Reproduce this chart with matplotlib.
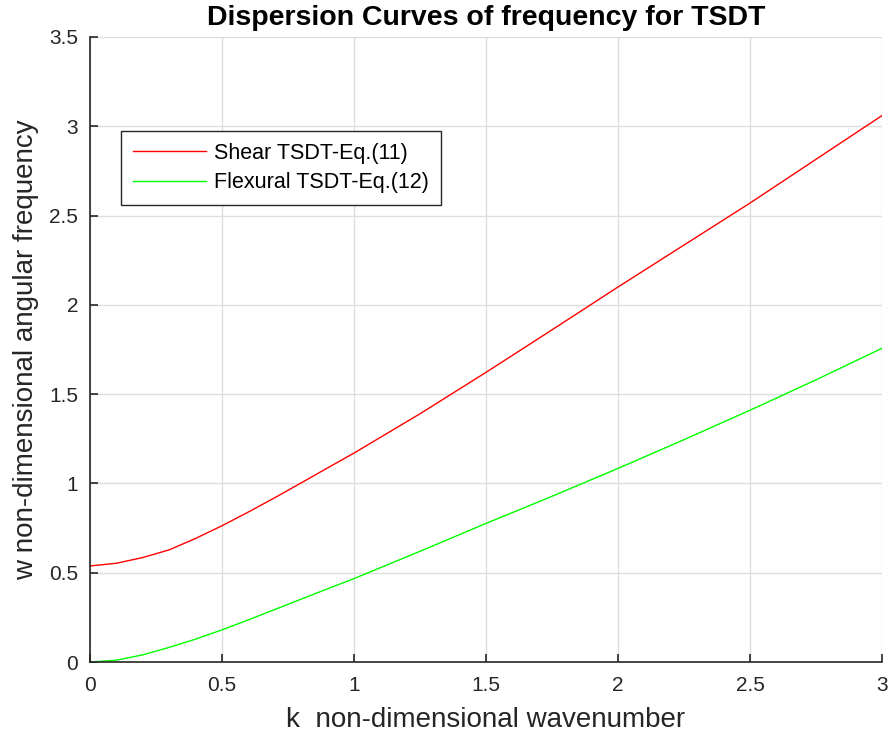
import matplotlib
import matplotlib.pyplot as plt
import numpy as np

matplotlib.use('Agg')
plt.rcParams['font.family'] = ['Liberation Sans', 'DejaVu Sans']

# values
k = [0, 0.1, 0.2, 0.3, 0.4, 0.5, 0.6, 0.7, 0.8, 0.9, 1.0,
     1.25, 1.5, 1.75, 2.0, 2.25, 2.5, 2.75, 3.0]
w_shear = [0.538, 0.553, 0.585, 0.628, 0.692, 0.763, 0.84, 0.92, 1.003, 1.087, 1.17,
           1.39, 1.622, 1.86, 2.1, 2.335, 2.57, 2.815, 3.06]
w_flex = [0.0, 0.01, 0.04, 0.082, 0.128, 0.18, 0.236, 0.294, 0.352, 0.41, 0.467,
          0.62, 0.776, 0.928, 1.084, 1.245, 1.41, 1.58, 1.757]

xticks = [0, 0.5, 1, 1.5, 2, 2.5, 3]
xticklabels = ['0', '0.5', '1', '1.5', '2', '2.5', '3']
yticks = [0, 0.5, 1, 1.5, 2, 2.5, 3, 3.5]
yticklabels = ['0', '0.5', '1', '1.5', '2', '2.5', '3', '3.5']

fig = plt.figure(figsize=(8.88, 7.45), dpi=100)
ax = fig.add_axes([90 / 888, 83 / 745, 792 / 888, 625 / 745])

ax.plot(k, w_shear, color='#ff0000', lw=1.0, label='Shear TSDT-Eq.(11)')
ax.plot(k, w_flex, color='#00ff00', lw=1.0, label='Flexural TSDT-Eq.(12)')

ax.set_xlim(0, 3)
ax.set_ylim(0, 3.5)
ax.set_xticks(xticks)
ax.set_yticks(yticks)
ax.set_xticklabels(xticklabels)
ax.set_yticklabels(yticklabels)
ax.grid(True, color='#dedede', lw=1.0)
ax.set_axisbelow(True)
for s in ['top', 'right']:
    ax.spines[s].set_visible(False)
for s in ['left', 'bottom']:
    ax.spines[s].set_color('#262626')
    ax.spines[s].set_linewidth(1.2)
ax.tick_params(direction='in', length=6, width=1.2, colors='#262626',
               labelsize=15, labelcolor='#262626')
ax.tick_params(axis='x', pad=10)
ax.tick_params(axis='y', pad=8.5)

ax.set_xlabel('k  non-dimensional wavenumber', fontsize=20, color='#262626', labelpad=9)
ax.set_ylabel('w non-dimensional angular frequency', fontsize=20, color='#262626', labelpad=7)
ax.set_title('Dispersion Curves of frequency for TSDT', fontsize=20.5,
             fontweight='bold', pad=8.6)

leg = ax.legend(loc='upper left', bbox_to_anchor=(0.0388, 0.85), borderaxespad=0,
                fontsize=15.5, fancybox=False, framealpha=1, edgecolor='#262626',
                handlelength=3.4, handletextpad=0.4, borderpad=0.55, labelspacing=0.4)
leg.get_frame().set_linewidth(1.0)

fig.savefig('out.png', dpi=100)
